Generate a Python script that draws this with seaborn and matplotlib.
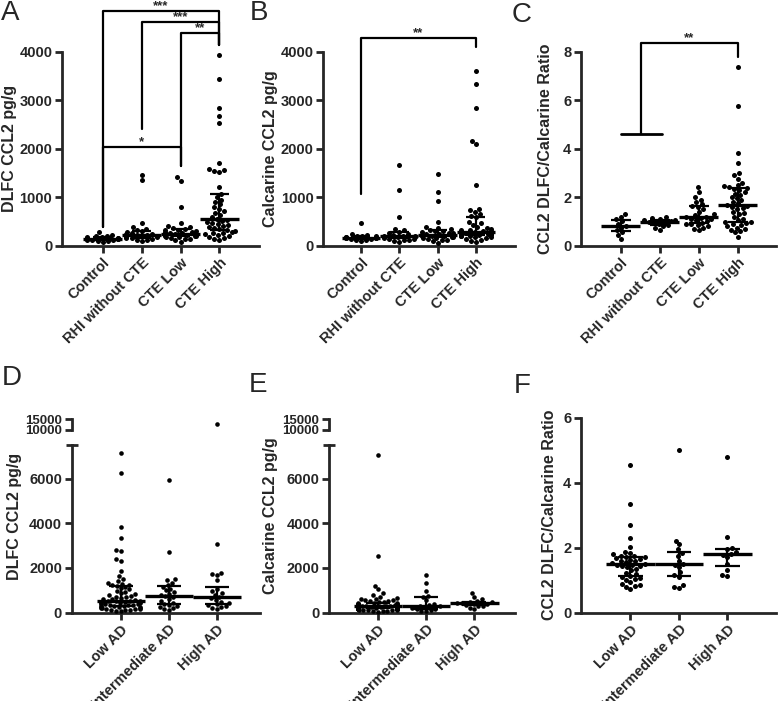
import numpy as np
import pandas as pd
import seaborn as sns
import matplotlib.pyplot as plt

cte_groups = ['Control', 'RHI without CTE', 'CTE Low', 'CTE High']
ad_groups = ['Low AD', 'Intermediate AD', 'High AD']

# A - DLFC CCL2 pg/g by CTE group
a_control = [85, 95, 105, 110, 120, 125, 135, 140, 145, 150, 155, 165, 175, 185, 195, 205, 230, 280]
a_rhi = [90, 110, 120, 135, 150, 160, 170, 180, 195, 205, 215, 225, 235, 250, 265, 280, 300, 320,
         340, 390, 470, 1355, 1465]
a_cte_low = [80, 110, 130, 145, 160, 170, 180, 190, 200, 210, 215, 225, 235, 240, 245, 250, 260, 270,
             280, 290, 300, 315, 330, 345, 360, 380, 400, 475, 790, 1340, 1420]
a_cte_high = [120, 140, 160, 180, 200, 220, 240, 255, 270, 285, 300, 320, 340, 360, 380, 400, 420, 440,
              460, 480, 505, 530, 550, 590, 630, 670, 710, 750, 800, 850, 900, 950, 1000, 1060,
              1217, 1520, 1540, 1560, 1580, 1711, 2523, 2674, 2845, 3431, 3932]

# B - Calcarine CCL2 pg/g by CTE group
b_control = [90, 110, 120, 130, 140, 150, 155, 160, 165, 170, 175, 180, 190, 200, 210, 225, 245, 462]
b_rhi = [70, 95, 110, 120, 135, 145, 160, 170, 180, 185, 190, 200, 210, 225, 240, 260, 290, 320, 340,
         592, 1142, 1670]
b_cte_low = [60, 90, 110, 125, 140, 150, 160, 170, 180, 190, 200, 205, 210, 215, 220, 225, 235, 245,
             255, 265, 280, 295, 310, 330, 350, 370, 390, 495, 928, 1100, 1478]
b_cte_high = [80, 100, 120, 140, 155, 170, 180, 190, 200, 210, 215, 220, 230, 235, 240, 250, 255, 260,
              265, 270, 278, 285, 290, 300, 310, 320, 330, 345, 360, 380, 420, 460, 495, 600, 620,
              650, 700, 740, 757, 1258, 2097, 2165, 2840, 3327, 3608]

# C - CCL2 DLFC/Calcarine ratio by CTE group
c_control = [0.28, 0.45, 0.55, 0.65, 0.75, 0.82, 0.9, 1.0, 1.1, 1.2, 1.3]
c_rhi = [0.65, 0.72, 0.8, 0.85, 0.9, 0.95, 0.98, 1.0, 1.02, 1.05, 1.08, 1.12, 1.15, 1.2]
c_cte_low = [0.65, 0.7, 0.75, 0.8, 0.85, 0.88, 0.9, 0.95, 1.0, 1.05, 1.1, 1.12, 1.15, 1.17, 1.2, 1.25,
             1.3, 1.4, 1.5, 1.6, 1.65, 1.7, 1.8, 1.9, 2.0, 2.2, 2.4]
c_cte_high = [0.37, 0.55, 0.6, 0.65, 0.7, 0.75, 0.8, 0.85, 0.9, 0.93, 0.96, 0.99, 1.05, 1.1, 1.2, 1.3,
              1.35, 1.4, 1.5, 1.55, 1.6, 1.65, 1.68, 1.75, 1.8, 1.9, 1.95, 2.0, 2.1, 2.15, 2.2, 2.3,
              2.35, 2.39, 2.42, 2.45, 2.5, 2.6, 2.75, 2.9, 3.01, 3.42, 3.84, 5.77, 7.36]

# D - DLFC CCL2 pg/g by AD group
d_low = [60, 80, 100, 115, 130, 145, 160, 175, 190, 205, 220, 235, 250, 265, 280, 295, 310, 325, 340,
         355, 370, 385, 400, 415, 430, 445, 460, 475, 490, 505, 515, 530, 540, 570, 600, 630, 660, 690,
         720, 750, 790, 830, 870, 920, 980, 1040, 1100, 1160, 1215, 1230, 1260, 1300, 1350, 1420,
         1500, 1620, 1843, 2330, 2400, 2760, 2800, 3357, 3838, 6265, 7120]
d_int = [120, 160, 200, 250, 290, 330, 380, 450, 520, 600, 680, 740, 790, 850, 920, 1000, 1080, 1150,
         1250, 1350, 1450, 1500, 2714, 5933]
d_high = [150, 200, 250, 290, 330, 380, 430, 500, 580, 650, 720, 800, 880, 950, 1050, 1450, 1700,
          1750, 1770, 3073, 12700]

# E - Calcarine CCL2 pg/g by AD group
e_low = [40, 60, 75, 90, 100, 110, 120, 130, 140, 150, 160, 165, 170, 175, 180, 185, 190, 195, 200,
         205, 210, 215, 220, 225, 230, 235, 240, 245, 250, 255, 265, 272, 280, 290, 300, 310, 320,
         330, 340, 350, 360, 370, 380, 390, 400, 410, 415, 420, 430, 470, 500, 520, 540, 560, 580,
         600, 620, 650, 720, 800, 885, 1050, 1215, 2548, 7040]
e_int = [60, 90, 120, 150, 180, 220, 260, 280, 300, 340, 380, 560, 700, 740, 975, 1320, 1680]
e_high = [150, 220, 280, 320, 350, 380, 400, 420, 440, 460, 480, 520, 600, 700, 870]

# F - CCL2 DLFC/Calcarine ratio by AD group
f_low = [0.73, 0.78, 0.82, 0.85, 0.88, 0.95, 1.0, 1.03, 1.06, 1.1, 1.12, 1.18, 1.22, 1.3, 1.35, 1.4,
         1.43, 1.45, 1.47, 1.48, 1.5, 1.52, 1.55, 1.58, 1.6, 1.63, 1.66, 1.68, 1.7, 1.72, 1.74, 1.76,
         1.8, 1.83, 1.87, 2.03, 2.31, 2.70, 3.35, 4.53]
f_int = [0.77, 0.8, 0.85, 1.1, 1.15, 1.25, 1.4, 1.48, 1.5, 1.6, 1.75, 1.85, 1.95, 2.1, 2.22, 5.01]
f_high = [1.13, 1.15, 1.3, 1.5, 1.7, 1.78, 1.82, 1.88, 1.95, 2.0, 2.34, 4.79]

# significance brackets: (x left, x right, bar y, left leg end, right leg end, label)
a_brackets = [(0, 3, 4840, 390, 4140, '***'),
              (1, 3, 4606, 2400, 4140, '***'),
              (2, 3, 4390, 1650, 4140, '**'),
              (0, 2, 2040, 390, 1650, '*')]
b_brackets = [(0, 3, 4276, 1060, 4100, '**')]
c_brackets = [(0.52, 3, 8.37, 4.6, 7.8, '**')]

W, H = 778, 701


def px_rect(l, r, t, b):
    return [l / W, 1 - b / H, (r - l) / W, (b - t) / H]


def to_long(groups, lists):
    return pd.DataFrame({'group': np.repeat(groups, [len(v) for v in lists]),
                         'value': np.concatenate(lists)})


def style_axis(ax):
    sns.despine(ax=ax)
    for s in ['left', 'bottom']:
        ax.spines[s].set_linewidth(2.0)
    ax.tick_params(width=2.0, length=5, labelsize=10.5, pad=2)
    for t in ax.get_xticklabels() + ax.get_yticklabels():
        t.set_fontweight('bold')
    ax.set_xlabel('')


def summary_bars(ax, df, groups):
    # median with interquartile range
    for i, g in enumerate(groups):
        q1, med, q3 = np.percentile(df.loc[df.group == g, 'value'], [25, 50, 75])
        ax.hlines(med, i - 0.5, i + 0.5, color='black', lw=2.4, zorder=4)
        ax.vlines(i, q1, q3, color='black', lw=1.6, zorder=4)
        ax.hlines([q1, q3], i - 0.25, i + 0.25, color='black', lw=1.6, zorder=4)


def bracket(ax, x1, x2, y, y1, y2, label):
    ax.plot([x1, x1, x2, x2], [y1, y, y, y2], color='black', lw=1.6, clip_on=False)
    ax.text((x1 + x2) / 2, y + 0.01 * (ax.get_ylim()[1]), label, ha='center', va='baseline',
            fontsize=9.5, fontweight='bold', clip_on=False)


def dot_panel(ax, df, groups, xlim, ylim, yticks, ylabel, label_dx, size=3.6):
    sns.swarmplot(data=df, x='group', y='value', order=groups, color='black', size=size,
                  warn_thresh=1, ax=ax, zorder=3, clip_on=False)
    summary_bars(ax, df, groups)
    ax.set_xlim(*xlim)
    ax.set_ylim(*ylim)
    ax.set_yticks(yticks)
    ax.set_xticks(range(len(groups)))
    ax.set_xticklabels(groups, rotation=45, ha='right', rotation_mode='anchor')
    ax.set_ylabel(ylabel, fontsize=11.5, fontweight='bold')
    width_px = ax.get_position().width * W
    ax.yaxis.set_label_coords(label_dx / width_px, 0.5)
    style_axis(ax)


def broken_panel(fig, l, r, groups, lists, xlim, ylabel, label_dx):
    df = to_long(groups, lists)
    ax = fig.add_axes(px_rect(l, r, 445, 612.7))
    top = fig.add_axes(px_rect(l, r, 419.3, 430))
    dot_panel(ax, df[df.value <= 7500], groups, xlim, (0, 7500), [0, 2000, 4000, 6000], ylabel,
              label_dx, size=3.3)
    ax.set_yticks([7500], minor=True)
    ax.tick_params(axis='y', which='minor', direction='inout', length=9, width=2.0)
    ax.yaxis.set_label_coords(label_dx / (r - l), (612.7 - 516) / (612.7 - 445))
    sns.swarmplot(data=df[df.value >= 10000], x='group', y='value', order=groups, color='black',
                  size=3.3, ax=top, zorder=3, clip_on=False)
    top.set_xlim(*xlim)
    top.set_ylim(10000, 15000)
    top.set_yticks([10000, 15000])
    top.set_xticks([])
    top.set_ylabel('')
    style_axis(top)
    top.tick_params(labelsize=9.5)
    top.spines['bottom'].set_visible(False)
    return ax


sns.set_style('ticks')
plt.rcParams['font.family'] = ['Liberation Sans', 'DejaVu Sans']
plt.rcParams['font.weight'] = 'bold'
plt.rcParams['axes.labelweight'] = 'bold'

fig = plt.figure(figsize=(W / 100, H / 100), dpi=100)

axA = fig.add_axes(px_rect(62, 259, 51.7, 245.7))
dot_panel(axA, to_long(cte_groups, [a_control, a_rhi, a_cte_low, a_cte_high]), cte_groups,
          (-1.05, 4.02), (0, 4000), [0, 1000, 2000, 3000, 4000], 'DLFC CCL2 pg/g', -45)
for b in a_brackets:
    bracket(axA, *b)

axB = fig.add_axes(px_rect(323.3, 515, 51.7, 245.7))
dot_panel(axB, to_long(cte_groups, [b_control, b_rhi, b_cte_low, b_cte_high]), cte_groups,
          (-0.98, 4.02), (0, 4000), [0, 1000, 2000, 3000, 4000], 'Calcarine CCL2 pg/g', -45)
for b in b_brackets:
    bracket(axB, *b)

axC = fig.add_axes(px_rect(581, 776, 51.7, 245.7))
dot_panel(axC, to_long(cte_groups, [c_control, c_rhi, c_cte_low, c_cte_high]), cte_groups,
          (-1.02, 3.98), (0, 8), [0, 2, 4, 6, 8], 'CCL2 DLFC/Calcarine Ratio', -28)
# pooled Control + RHI group for the comparison
axC.plot([0, 1.05], [4.6, 4.6], color='black', lw=2.0, clip_on=False)
for b in c_brackets:
    bracket(axC, *b)

broken_panel(fig, 71.7, 260, ad_groups, [d_low, d_int, d_high], (-1.02, 2.90), 'DLFC CCL2 pg/g', -50)
broken_panel(fig, 329, 515, ad_groups, [e_low, e_int, e_high], (-1.01, 2.84), 'Calcarine CCL2 pg/g', -51)

axF = fig.add_axes(px_rect(581, 776, 417.7, 612.7))
dot_panel(axF, to_long(ad_groups, [f_low, f_int, f_high]), ad_groups,
          (-1.02, 3.0), (0, 6), [0, 2, 4, 6], 'CCL2 DLFC/Calcarine Ratio', -24)

for letter, x, y in [('A', 1, 20), ('B', 250, 20), ('C', 512, 21.5),
                     ('D', 2, 385), ('E', 249, 392), ('F', 514, 393)]:
    fig.text(x / W, 1 - y / H, letter, fontsize=20, fontweight='normal', va='baseline', ha='left')

fig.savefig('out.png', dpi=100)
